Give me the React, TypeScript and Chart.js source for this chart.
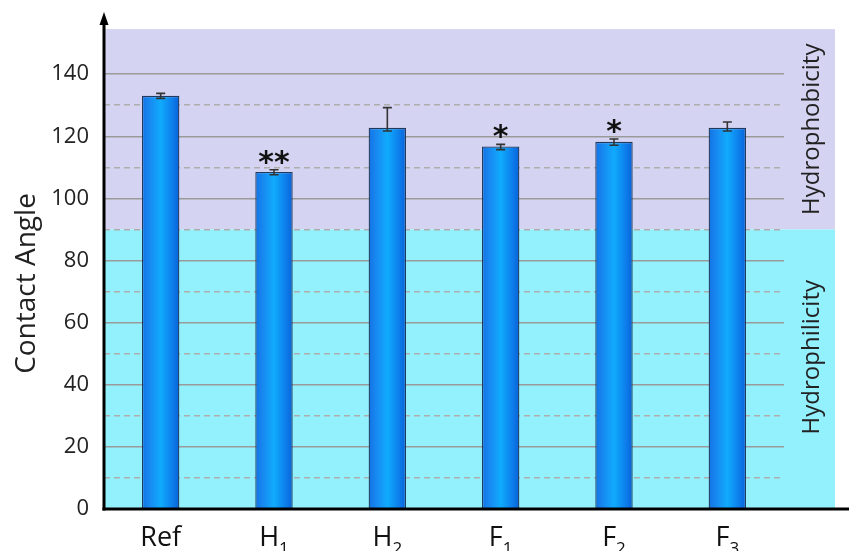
import React, { useEffect, useRef } from "react";
import { Chart, registerables } from "chart.js";

Chart.register(...registerables);

// ---- data ----
const categories = ["Ref", "H_1", "H_2", "F_1", "F_2", "F_3"];
const contactAngle = [133, 108.5, 122.7, 116.7, 118.2, 122.7];
const errPlus = [0.8, 0.7, 6.5, 0.7, 0.9, 1.9];
const errMinus = [0.8, 0.9, 1.0, 1.0, 1.1, 1.0];
const significance = ["", "**", "", "*", "*", ""];
const hydrophobicRange = [90, 154.5];
const hydrophilicRange = [0, 90];
const regionLabels = ["Hydrophobicity", "Hydrophilicity"];
const yTitle = "Contact Angle";
const yMin = 0;
const yMax = 160;
const yStep = 10;

const FONT = "'Open Sans', 'Noto Sans', sans-serif";

const decorPlugin = {
  id: "decor",
  beforeDraw(chart: any) {
    const { ctx, chartArea, scales } = chart;
    const y = scales.y;
    const right = chartArea.right + 51;
    ctx.save();
    ctx.fillStyle = "rgb(212,212,242)";
    const t1 = y.getPixelForValue(hydrophobicRange[1]);
    const b1 = y.getPixelForValue(hydrophobicRange[0]);
    ctx.fillRect(chartArea.left, t1, right - chartArea.left, b1 - t1);
    ctx.fillStyle = "rgb(147,241,253)";
    const t2 = y.getPixelForValue(hydrophilicRange[1]);
    const b2 = y.getPixelForValue(hydrophilicRange[0]);
    ctx.fillRect(chartArea.left, t2, right - chartArea.left, b2 - t2);
    ctx.restore();
  },
  afterDatasetsDraw(chart: any) {
    const { ctx, scales } = chart;
    const y = scales.y;
    const meta = chart.getDatasetMeta(0);
    ctx.save();
    meta.data.forEach((bar: any, i: number) => {
      const x = bar.x;
      const top = y.getPixelForValue(contactAngle[i] + errPlus[i]);
      const bot = y.getPixelForValue(contactAngle[i] - errMinus[i]);
      ctx.strokeStyle = "#333";
      ctx.lineWidth = 1.6;
      ctx.beginPath();
      ctx.moveTo(x, top);
      ctx.lineTo(x, bot);
      ctx.moveTo(x - 4.5, top);
      ctx.lineTo(x + 4.5, top);
      ctx.moveTo(x - 4.5, bot);
      ctx.lineTo(x + 4.5, bot);
      ctx.stroke();
      if (significance[i]) {
        ctx.fillStyle = "#111";
        ctx.font = `bold 30px 'DejaVu Sans', sans-serif`;
        ctx.textAlign = "center";
        ctx.textBaseline = "alphabetic";
        ctx.fillText(significance[i], x, top + 2);
      }
    });
    ctx.restore();
  },
  afterDraw(chart: any) {
    const { ctx, chartArea, scales, width } = chart;
    const x = scales.x;
    const y = scales.y;
    const axisX = chartArea.left;
    const axisY = chartArea.bottom;
    ctx.save();
    ctx.strokeStyle = "#000";
    ctx.fillStyle = "#000";
    ctx.lineWidth = 3;
    ctx.lineCap = "butt";
    // x axis
    ctx.beginPath();
    ctx.moveTo(axisX - 1.5, axisY);
    ctx.lineTo(width, axisY);
    ctx.stroke();
    // y axis with arrow
    ctx.beginPath();
    ctx.moveTo(axisX, axisY + 1.5);
    ctx.lineTo(axisX, chartArea.top + 10);
    ctx.stroke();
    ctx.beginPath();
    ctx.moveTo(axisX, chartArea.top);
    ctx.lineTo(axisX - 4.5, chartArea.top + 13);
    ctx.lineTo(axisX + 4.5, chartArea.top + 13);
    ctx.closePath();
    ctx.fill();

    // y title
    ctx.save();
    ctx.fillStyle = "#222";
    ctx.font = `28px ${FONT}`;
    ctx.textAlign = "center";
    ctx.textBaseline = "middle";
    ctx.translate(27, (chartArea.top + chartArea.bottom) / 2 + 23);
    ctx.rotate(-Math.PI / 2);
    ctx.fillText(yTitle, 0, 0);
    ctx.restore();

    // category labels with subscripts
    ctx.fillStyle = "#111";
    categories.forEach((lab, i) => {
      const cx = x.getPixelForValue(i);
      const [base, sub] = lab.split("_");
      ctx.font = `27px ${FONT}`;
      const bw = ctx.measureText(base).width;
      let sw = 0;
      if (sub) {
        ctx.font = `17px ${FONT}`;
        sw = ctx.measureText(sub).width;
      }
      const total = bw + sw;
      const start = cx - total / 2;
      ctx.textAlign = "left";
      ctx.textBaseline = "alphabetic";
      ctx.font = `27px ${FONT}`;
      ctx.fillText(base, start, axisY + 37);
      if (sub) {
        ctx.font = `17px ${FONT}`;
        ctx.fillText(sub, start + bw, axisY + 45);
      }
    });

    // region labels
    const lx = chartArea.right + 28;
    const regions = [hydrophobicRange, hydrophilicRange];
    ctx.font = `24px ${FONT}`;
    ctx.fillStyle = "#222";
    ctx.textAlign = "center";
    ctx.textBaseline = "middle";
    regions.forEach((r, k) => {
      const cy = k === 0
        ? (y.getPixelForValue(r[0]) + y.getPixelForValue(r[1])) / 2
        : (y.getPixelForValue(r[0]) + y.getPixelForValue(r[1])) / 2 - 12;
      ctx.save();
      ctx.translate(lx, cy);
      ctx.rotate(-Math.PI / 2);
      ctx.fillText(regionLabels[k], 0, 0);
      ctx.restore();
    });
    ctx.restore();
  },
};

export default function App() {
  const ref = useRef<HTMLCanvasElement | null>(null);
  useEffect(() => {
    if (!ref.current) return;
    const chart = new Chart(ref.current, {
      type: "bar",
      data: {
        labels: categories,
        datasets: [
          {
            data: contactAngle,
            backgroundColor: (c: any) => {
              const chartObj = c.chart;
              const xs = chartObj.scales?.x;
              const area = chartObj.chartArea;
              if (!xs || !area || c.dataIndex == null) return "#1590f0";
              const cx = xs.getPixelForValue(c.dataIndex);
              const w = (area.right - area.left) / categories.length * 0.33;
              const g = chartObj.ctx.createLinearGradient(cx - w / 2, 0, cx + w / 2, 0);
              g.addColorStop(0, "#1273e4");
              g.addColorStop(0.2, "#1888f0");
              g.addColorStop(0.5, "#10abfd");
              g.addColorStop(0.8, "#0d80ec");
              g.addColorStop(1, "#0962d8");
              return g;
            },
            borderColor: "#1f3a5e",
            borderWidth: 1.3,
            borderSkipped: "bottom",
            categoryPercentage: 1,
            barPercentage: 0.33,
          },
        ],
      },
      options: {
        responsive: false,
        animation: false,
        devicePixelRatio: 1,
        layout: { padding: { left: 0, right: 65, top: 12, bottom: 42 } },
        plugins: {
          legend: { display: false },
          tooltip: { enabled: false },
        },
        scales: {
          x: {
            ticks: { display: false },
            grid: { display: false },
            border: { display: false },
            afterFit: (s: any) => {
              s.height = 0;
              s.paddingLeft = 0;
              s.paddingRight = 0;
            },
          },
          y: {
            min: yMin,
            max: yMax,
            afterFit: (s: any) => {
              s.width = 104;
              s.paddingTop = 0;
              s.paddingBottom = 0;
            },
            ticks: {
              stepSize: yStep,
              padding: 15,
              color: "#222",
              font: { family: FONT, size: 22 },
              callback: (v: any) => (v % 20 === 0 && v <= 140 ? String(v) : ""),
            },
            title: { display: false },
            grid: {
              drawTicks: false,
              color: (c: any) => {
                const v = c.tick?.value;
                if (v == null || v <= 0 || v >= 150) return "rgba(0,0,0,0)";
                return v % 20 === 0 ? "#9a9a9a" : "#adadad";
              },
              lineWidth: 1.5,
            },
            border: {
              display: false,
              dash: (c: any) => {
                const v = c.tick?.value;
                return v != null && v % 20 !== 0 ? [6, 4] : [];
              },
            },
          },
        },
      },
      plugins: [decorPlugin],
    });
    return () => chart.destroy();
  }, []);
  return (
    <div style={{ position: "absolute", left: 0, top: 0, width: 849, height: 551, background: "#fff" }}>
      <canvas ref={ref} width={849} height={551} />
    </div>
  );
}
